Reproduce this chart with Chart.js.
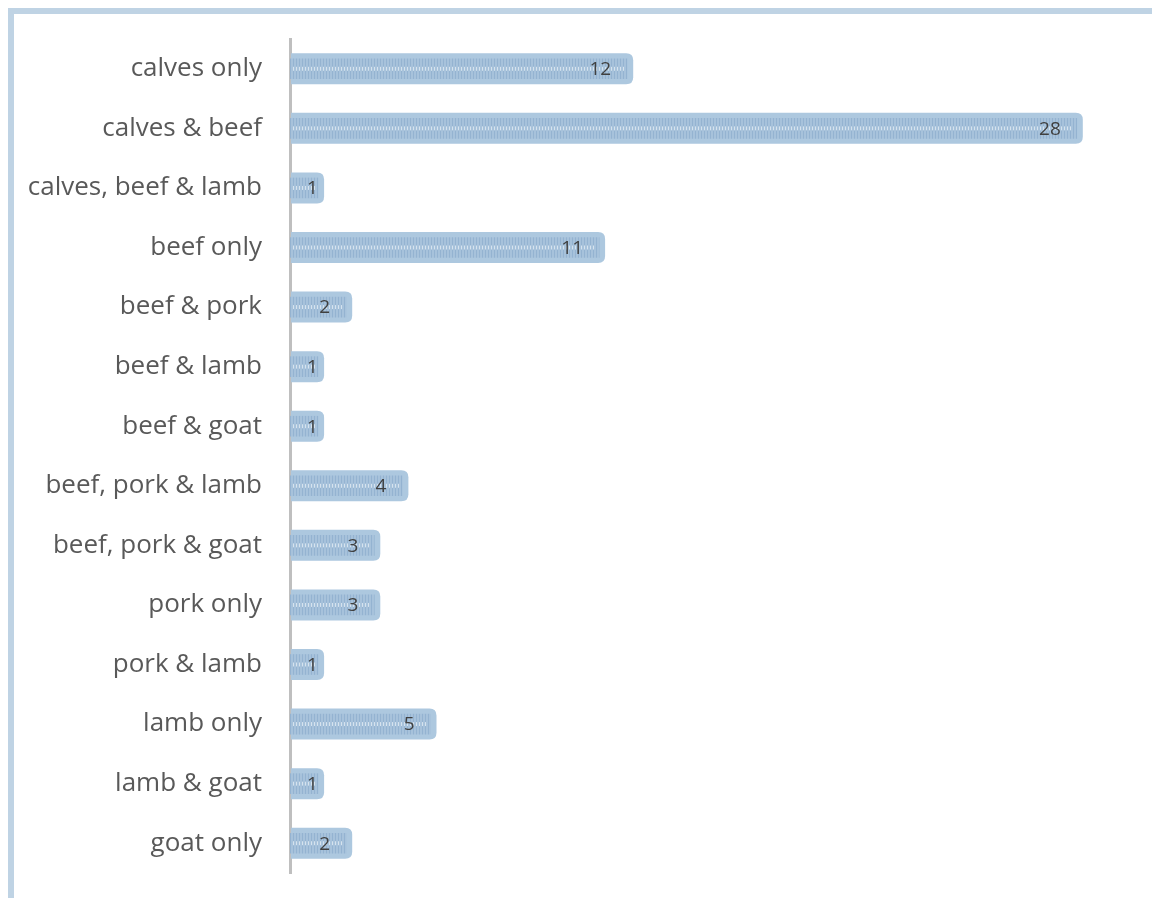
<!DOCTYPE html>
<html>
<head>
<meta charset="utf-8">
<script src="https://cdn.jsdelivr.net/npm/chart.js@4/dist/chart.umd.min.js"></script>
<style>
  html, body { margin: 0; padding: 0; background: #fff; }
  canvas { display: block; }
</style>
</head>
<body>
<canvas id="chart" width="1152" height="898"></canvas>
<script>
const categories = [
    'calves only', 'calves & beef', 'calves, beef & lamb', 'beef only',
    'beef & pork', 'beef & lamb', 'beef & goat', 'beef, pork & lamb',
    'beef, pork & goat', 'pork only', 'pork & lamb', 'lamb only',
    'lamb & goat', 'goat only'
];
const counts = [12, 28, 1, 11, 2, 1, 1, 4, 3, 3, 1, 5, 1, 2];
const axisMax = 30;

const frameColor = '#bfd3e4';
const rimColor = '#adc8df';

// vertical stripe fill for the bar body
function stripePattern() {
    const c = document.createElement('canvas');
    c.width = 3;
    c.height = 1;
    const g = c.getContext('2d');
    g.fillStyle = '#a7c2db';
    g.fillRect(0, 0, 3, 1);
    g.fillStyle = '#94b3d1';
    g.fillRect(2, 0, 1, 1);
    return g.createPattern(c, 'repeat');
}

function roundRect(ctx, x, y, w, h, r) {
    ctx.beginPath();
    ctx.moveTo(x, y);
    ctx.lineTo(x + w - r, y);
    ctx.quadraticCurveTo(x + w, y, x + w, y + r);
    ctx.lineTo(x + w, y + h - r);
    ctx.quadraticCurveTo(x + w, y + h, x + w - r, y + h);
    ctx.lineTo(x, y + h);
    ctx.closePath();
}

const framePlugin = {
    id: 'frame',
    beforeDraw(chart) {
        const ctx = chart.ctx;
        ctx.save();
        ctx.fillStyle = frameColor;
        ctx.fillRect(8, 8, chart.width - 8, 6);
        ctx.fillRect(8, 8, 6, chart.height - 8);
        ctx.restore();
    }
};

// soft rounded rim behind each bar
const rimPlugin = {
    id: 'rim',
    beforeDatasetsDraw(chart) {
        const ctx = chart.ctx;
        const meta = chart.getDatasetMeta(0);
        ctx.save();
        ctx.fillStyle = rimColor;
        meta.data.forEach(bar => {
            const left = bar.base + 1;
            roundRect(ctx, left, bar.y - 15.5, bar.x + 6 - left, 31, 7);
            ctx.fill();
        });
        ctx.restore();
    }
};

// light dashes along the middle of the bar and the value labels
const labelPlugin = {
    id: 'valueLabels',
    afterDatasetsDraw(chart) {
        const ctx = chart.ctx;
        const meta = chart.getDatasetMeta(0);
        const data = chart.data.datasets[0].data;
        ctx.save();
        meta.data.forEach((bar, i) => {
            ctx.fillStyle = '#d6e3ee';
            for (let x = Math.round(bar.base) + 3; x < bar.x - 4; x += 3) {
                ctx.fillRect(x, bar.y - 2, 1, 4);
            }
            ctx.font = '19px "Open Sans", sans-serif';
            ctx.fillStyle = '#404040';
            ctx.textBaseline = 'middle';
            ctx.textAlign = 'right';
            const txt = String(data[i]);
            const w = ctx.measureText(txt).width;
            const right = Math.max(bar.x - 16, bar.base + 17 + w);
            ctx.fillText(txt, right, bar.y + 1);
        });
        ctx.restore();
    }
};

const ctx = document.getElementById('chart').getContext('2d');
new Chart(ctx, {
    type: 'bar',
    data: {
        labels: categories,
        datasets: [{
            data: counts,
            backgroundColor: stripePattern(),
            borderWidth: 0,
            barThickness: 20,
            categoryPercentage: 1
        }]
    },
    options: {
        indexAxis: 'y',
        responsive: false,
        animation: false,
        layout: {
            padding: { left: 0, right: 19, top: 39, bottom: 25 }
        },
        plugins: {
            legend: { display: false },
            tooltip: { enabled: false }
        },
        scales: {
            x: {
                display: false,
                min: 0,
                max: axisMax
            },
            y: {
                afterFit(scale) {
                    scale.width = 290;
                    scale.paddingTop = 0;
                    scale.paddingBottom = 0;
                },
                grid: { display: false, drawTicks: false },
                border: { display: true, color: '#bfbfbf', width: 3 },
                ticks: {
                    padding: 28,
                    color: '#595959',
                    font: { family: '"Open Sans", sans-serif', size: 26 }
                }
            }
        }
    },
    plugins: [framePlugin, rimPlugin, labelPlugin]
});
</script>
</body>
</html>
